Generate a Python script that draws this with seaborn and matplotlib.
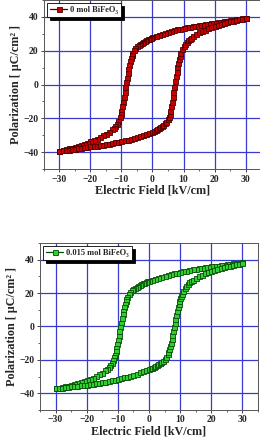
import pandas as pd
import matplotlib.pyplot as plt
import seaborn as sns

# Data (upper branch: +30 -> -30, lower branch: -30 -> +30)
e_up_0 = [30, 29, 28, 27, 26, 25, 24, 23, 22, 21, 20, 19, 18, 17, 16, 15, 14, 13, 12, 11, 10,
          9, 8, 7, 6, 5, 4, 3, 2, 1, 0, -0.5, -1, -1.5, -2, -2.5, -3, -3.5, -4, -4.5, -5, -5.5,
          -6, -6.5, -6.75, -7, -7.25, -7.5, -7.75, -8, -8.25, -8.5, -8.75, -9, -9.25, -9.5, -9.75,
          -10, -10.25, -10.5, -11, -11.5, -12, -12.5, -13, -14, -15, -16, -17, -18, -19, -20,
          -21, -22, -23, -24, -25, -26, -27, -28, -29, -30]
p_up_0 = [39.5, 39.2, 38.9, 38.6, 38.3, 38.0, 37.7, 37.4, 37.1, 36.8, 36.5, 36.2, 35.9, 35.6,
          35.3, 35.0, 34.7, 34.4, 34.1, 33.8, 33.5, 33.1, 32.7, 32.3, 31.8, 31.3, 30.7, 30.1,
          29.4, 28.7, 28.0, 27.6, 27.2, 26.8, 26.4, 25.9, 25.4, 24.8, 24.2, 23.5, 22.8, 21.8,
          20.6, 18.5, 17.2, 15.6, 13.7, 11.6, 9.2, 6.7, 4.0, 1.2, -1.6, -4.4, -7.3, -10.2, -13.0,
          -15.5, -17.5, -19.1, -21.5, -23.2, -24.5, -25.5, -26.4, -27.8, -29.0, -30.1, -31.1,
          -32.0, -32.9, -33.7, -34.4, -35.1, -35.7, -36.3, -36.8, -37.3, -37.8, -38.3, -38.7, -39.2]
e_lo_0 = [-30, -29, -28, -27, -26, -25, -24, -23, -22, -21, -20, -19, -18, -17, -16, -15, -14,
          -13, -12, -11, -10, -9, -8, -7, -6, -5, -4, -3, -2, -1, 0, 0.5, 1, 1.5, 2, 2.5, 3, 3.5,
          4, 4.5, 5, 5.25, 5.5, 5.75, 6, 6.25, 6.5, 6.75, 7, 7.25, 7.5, 7.75, 8, 8.25, 8.5, 8.75,
          9, 9.5, 10, 10.5, 11, 11.5, 12, 12.5, 13, 14, 15, 16, 17, 18, 19, 20, 21, 22, 23, 24,
          25, 26, 27, 28, 29, 30]
p_lo_0 = [-39.2, -39.0, -38.7, -38.5, -38.2, -38.0, -37.7, -37.5, -37.2, -36.9, -36.6, -36.4,
          -36.1, -35.8, -35.5, -35.2, -34.9, -34.6, -34.2, -33.9, -33.5, -33.1, -32.7, -32.2,
          -31.7, -31.2, -30.6, -30.0, -29.3, -28.6, -27.8, -27.4, -26.9, -26.4, -25.9, -25.3,
          -24.6, -23.9, -23.0, -21.9, -20.4, -19.2, -17.5, -15.4, -13.0, -10.3, -7.4, -4.4, -1.3,
          1.8, 4.8, 7.7, 10.4, 12.9, 15.1, 17.0, 18.6, 20.8, 22.5, 23.9, 25.1, 26.1, 27.0, 27.8,
          28.5, 29.7, 30.8, 31.7, 32.5, 33.3, 34.0, 34.6, 35.2, 35.8, 36.3, 36.8, 37.3, 37.7,
          38.1, 38.5, 38.9, 39.3]

e_up_15 = [30, 29, 28, 27, 26, 25, 24, 23, 22, 21, 20, 19, 18, 17, 16, 15, 14, 13, 12, 11, 10,
           9, 8, 7, 6, 5, 4, 3, 2, 1, 0, -0.5, -1, -1.5, -2, -2.5, -3, -3.5, -4, -4.5, -5, -5.5,
           -6, -6.5, -7, -7.25, -7.5, -7.75, -8, -8.25, -8.5, -8.75, -9, -9.25, -9.5, -9.75, -10,
           -10.25, -10.5, -10.75, -11, -11.25, -11.5, -12, -12.5, -13, -13.5, -14, -15, -16, -17,
           -18, -19, -20, -21, -22, -23, -24, -25, -26, -27, -28, -29, -30]
p_up_15 = [38.5, 38.3, 38.0, 37.8, 37.5, 37.3, 37.0, 36.8, 36.5, 36.3, 36.0, 35.7, 35.4, 35.1,
           34.8, 34.5, 34.2, 33.9, 33.5, 33.1, 32.7, 32.3, 31.9, 31.4, 30.9, 30.4, 29.9, 29.3,
           28.7, 28.1, 27.5, 27.1, 26.7, 26.3, 25.9, 25.4, 24.9, 24.4, 23.8, 23.1, 22.4, 21.6,
           20.6, 19.4, 17.8, 16.6, 15.2, 13.5, 11.6, 9.5, 7.2, 4.8, 2.3, -0.3, -2.9, -5.5, -8.0,
           -10.5, -12.8, -15.0, -16.9, -18.5, -19.9, -21.9, -23.3, -24.5, -25.4, -26.2, -27.6,
           -28.7, -29.7, -30.6, -31.4, -32.1, -32.8, -33.4, -34.0, -34.5, -35.0, -35.5, -35.9,
           -36.3, -36.7, -37.0]
e_lo_15 = [-30, -29, -28, -27, -26, -25, -24, -23, -22, -21, -20, -19, -18, -17, -16, -15, -14,
           -13, -12, -11, -10, -9, -8, -7, -6, -5, -4, -3, -2, -1, 0, 0.5, 1, 1.5, 2, 2.5, 3,
           3.5, 4, 4.5, 5, 5.5, 6, 6.25, 6.5, 6.75, 7, 7.25, 7.5, 7.75, 8, 8.25, 8.5, 8.75, 9,
           9.25, 9.5, 9.75, 10, 10.25, 10.5, 11, 11.5, 12, 12.5, 13, 13.5, 14, 15, 16, 17, 18,
           19, 20, 21, 22, 23, 24, 25, 26, 27, 28, 29, 30]
p_lo_15 = [-37.0, -36.8, -36.6, -36.4, -36.1, -35.9, -35.7, -35.5, -35.3, -35.1, -34.8, -34.6,
           -34.3, -34.0, -33.7, -33.4, -33.1, -32.7, -32.3, -31.9, -31.5, -31.0, -30.5, -30.0,
           -29.4, -28.8, -28.2, -27.5, -26.8, -26.1, -25.4, -25.0, -24.6, -24.1, -23.7, -23.2,
           -22.6, -22.0, -21.3, -20.5, -19.5, -18.2, -16.5, -15.3, -13.8, -12.0, -10.0, -7.8,
           -5.4, -2.9, -0.4, 2.1, 4.6, 7.0, 9.3, 11.5, 13.5, 15.3, 16.9, 18.3, 19.5, 21.5, 23.0,
           24.3, 25.4, 26.4, 27.2, 28.0, 29.2, 30.2, 31.1, 31.9, 32.6, 33.3, 33.9, 34.5, 35.0,
           35.5, 36.0, 36.4, 36.8, 37.2, 37.6, 38.0]

labels = ["0 mol BiFeO₃", "0.015 mol BiFeO₃"]
x_ticks = [-30, -20, -10, 0, 10, 20, 30]
y_ticks = [-40, -20, 0, 20, 40]

sns.set_theme(style="white")
plt.rcParams['font.family'] = ['Liberation Serif', 'DejaVu Serif']
plt.rcParams['font.weight'] = 'bold'

fig = plt.figure(figsize=(2.6, 4.46), dpi=100)
ax1 = fig.add_axes([0.169, 0.621, 0.835, 0.379])
ax2 = fig.add_axes([0.154, 0.081, 0.838, 0.374])

panels = [
    (ax1, e_up_0 + e_lo_0, p_up_0 + p_lo_0, labels[0], "#c80000", "#4a0000"),
    (ax2, e_up_15 + e_lo_15, p_up_15 + p_lo_15, labels[1], "#2ed12e", "#0a4a0a"),
]

for ax, e, p, lab, fc, ec in panels:
    df = pd.DataFrame({"E": e, "P": p})
    sns.lineplot(data=df, x="E", y="P", sort=False, estimator=None, errorbar=None, ax=ax,
                 color=ec, lw=0.9, marker="s", markersize=3.6, markerfacecolor=fc,
                 markeredgecolor=ec, markeredgewidth=0.6, label=lab)
    ax.set_xlim(-35, 35)
    ax.set_ylim(-50, 50)
    ax.set_xticks(x_ticks)
    ax.set_yticks(y_ticks)
    ax.set_xticks(range(-35, 36, 5), minor=True)
    ax.set_yticks(range(-50, 51, 10), minor=True)
    ax.grid(True, which="major", color="#3a3ad0", lw=0.9)
    ax.tick_params(which="major", direction="out", length=2.5, width=0.6, labelsize=7,
                   bottom=True, left=True, pad=1.5)
    ax.tick_params(which="minor", direction="out", length=1.5, width=0.5,
                   bottom=True, left=True)
    for s in ax.spines.values():
        s.set_color("#555555")
        s.set_linewidth(0.7)
    ax.set_xlabel("Electric Field [kV/cm]", fontsize=8.7, fontweight="bold", labelpad=1)
    ax.set_ylabel("Polarization [ μC/cm² ]", fontsize=8.7, fontweight="bold", labelpad=1)
    leg = ax.legend(loc="upper left", fontsize=6, frameon=True, fancybox=False,
                    borderpad=0.35, handlelength=2.0, handletextpad=0.4,
                    borderaxespad=0.4, shadow={"facecolor": "black", "edgecolor": "black",
                                               "alpha": 1, "ox": 2, "oy": -2})
    leg.get_frame().set_edgecolor("black")
    leg.get_frame().set_linewidth(0.6)
    leg.get_frame().set_alpha(1)

fig.savefig("out.png", dpi=100)
